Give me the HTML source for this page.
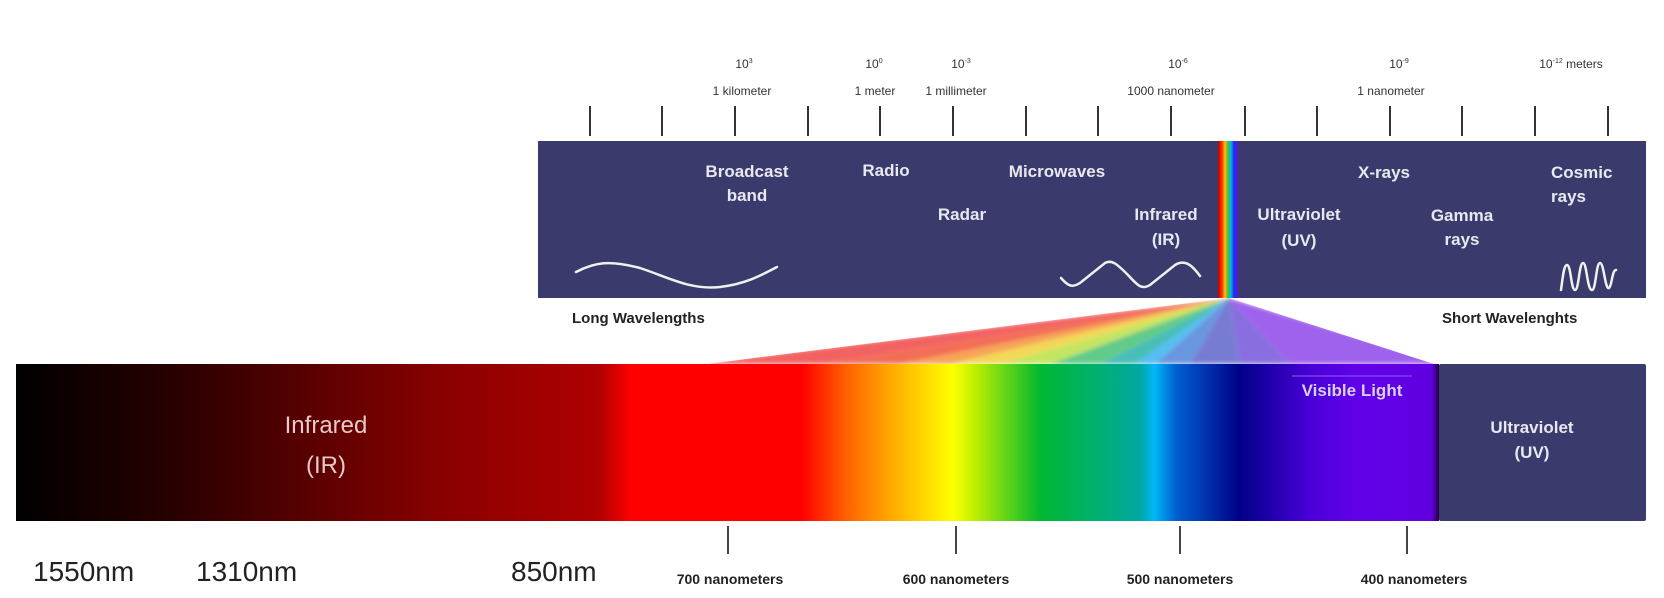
<!DOCTYPE html>
<html><head><meta charset="utf-8"><style>
html,body{margin:0;padding:0;background:#fff;}
svg{display:block;}
text{font-family:"Liberation Sans",sans-serif;}
</style></head><body>
<svg width="1664" height="598" viewBox="0 0 1664 598" xmlns="http://www.w3.org/2000/svg">
<defs>
<linearGradient id="vis" x1="16" y1="0" x2="1439" y2="0" gradientUnits="userSpaceOnUse">
<stop offset="0" stop-color="#000"/>
<stop offset="0.115" stop-color="#2a0000"/>
<stop offset="0.208" stop-color="#5a0000"/>
<stop offset="0.302" stop-color="#8a0000"/>
<stop offset="0.41" stop-color="#b00000"/>
<stop offset="0.432" stop-color="#ff0000"/>
<stop offset="0.552" stop-color="#ff0000"/>
<stop offset="0.583" stop-color="#ff6000"/>
<stop offset="0.614" stop-color="#ffa800"/>
<stop offset="0.658" stop-color="#ffff00"/>
<stop offset="0.673" stop-color="#c0f000"/>
<stop offset="0.72" stop-color="#00b830"/>
<stop offset="0.76" stop-color="#00b070"/>
<stop offset="0.79" stop-color="#00a8a0"/>
<stop offset="0.8" stop-color="#00b8f8"/>
<stop offset="0.815" stop-color="#0060d0"/>
<stop offset="0.86" stop-color="#000088"/>
<stop offset="0.91" stop-color="#4a00d8"/>
<stop offset="0.94" stop-color="#6000e8"/>
<stop offset="0.995" stop-color="#6000e0"/>
<stop offset="1" stop-color="#200040"/>
</linearGradient>
<linearGradient id="rb" x1="1218" y1="0" x2="1238" y2="0" gradientUnits="userSpaceOnUse">
<stop offset="0" stop-color="#c00000"/>
<stop offset="0.2" stop-color="#ff3000"/>
<stop offset="0.35" stop-color="#ffc000"/>
<stop offset="0.5" stop-color="#40c040"/>
<stop offset="0.65" stop-color="#00b0f0"/>
<stop offset="0.8" stop-color="#2030e0"/>
<stop offset="1" stop-color="#6010e0"/>
</linearGradient>
<filter id="bl"><feGaussianBlur stdDeviation="2"/></filter>
<clipPath id="fc"><polygon points="1229,298 707,364 1434,364"/></clipPath>
</defs>

<rect x="538" y="141" width="1108" height="157" fill="#3a3a6c"/>
<rect x="1218" y="141" width="20" height="157" fill="url(#rb)"/>

<g stroke="#333" stroke-width="2">
<line x1="590" y1="106" x2="590" y2="136"/><line x1="662" y1="106" x2="662" y2="136"/>
<line x1="735" y1="106" x2="735" y2="136"/><line x1="808" y1="106" x2="808" y2="136"/>
<line x1="880" y1="106" x2="880" y2="136"/><line x1="953" y1="106" x2="953" y2="136"/>
<line x1="1026" y1="106" x2="1026" y2="136"/><line x1="1098" y1="106" x2="1098" y2="136"/>
<line x1="1171" y1="106" x2="1171" y2="136"/><line x1="1245" y1="106" x2="1245" y2="136"/>
<line x1="1317" y1="106" x2="1317" y2="136"/><line x1="1390" y1="106" x2="1390" y2="136"/>
<line x1="1462" y1="106" x2="1462" y2="136"/><line x1="1535" y1="106" x2="1535" y2="136"/>
<line x1="1608" y1="106" x2="1608" y2="136"/>
</g>
<g font-size="12" fill="#333" text-anchor="middle">
<text x="744" y="68">10<tspan font-size="7" dy="-5">3</tspan></text>
<text x="874" y="68">10<tspan font-size="7" dy="-5">0</tspan></text>
<text x="961" y="68">10<tspan font-size="7" dy="-5">-3</tspan></text>
<text x="1178" y="68">10<tspan font-size="7" dy="-5">-6</tspan></text>
<text x="1399" y="68">10<tspan font-size="7" dy="-5">-9</tspan></text>
<text x="1571" y="68">10<tspan font-size="7" dy="-5">-12</tspan><tspan dy="5"> meters</tspan></text>
<text x="742" y="95">1 kilometer</text>
<text x="875" y="95">1 meter</text>
<text x="956" y="95">1 millimeter</text>
<text x="1171" y="95">1000 nanometer</text>
<text x="1391" y="95">1 nanometer</text>
</g>

<g font-size="17" font-weight="bold" fill="#e8e8f0" text-anchor="middle">
<text x="747" y="177">Broadcast</text><text x="747" y="201">band</text>
<text x="886" y="176">Radio</text>
<text x="1057" y="177">Microwaves</text>
<text x="962" y="220">Radar</text>
<text x="1166" y="220">Infrared</text><text x="1166" y="245">(IR)</text>
<text x="1299" y="220">Ultraviolet</text><text x="1299" y="246">(UV)</text>
<text x="1384" y="178">X-rays</text>
<text x="1462" y="221">Gamma</text><text x="1462" y="245">rays</text>
<text x="1551" y="178" text-anchor="start">Cosmic</text><text x="1551" y="202" text-anchor="start">rays</text>
</g>
<g fill="none" stroke="#f0f0f0" stroke-width="2.5" stroke-linecap="round">
<path d="M576,272 C595,262 610,260 640,268 C670,278 690,290 720,287 C745,284 760,276 777,267"/>
<path d="M1061,278 C1068,286 1072,288 1080,283 L1105,263 C1112,259 1118,265 1128,275 C1138,286 1142,290 1150,285 L1175,265 C1185,259 1192,265 1200,276"/>
<path d="M1561,290 C1563,275 1564,265 1567,265 C1571,265 1571,290 1575,290 C1579,290 1579,263 1583,263 C1587,263 1587,290 1592,290 C1596,290 1596,263 1600,263 C1604,263 1605,290 1609,288 C1612,286 1612,270 1616,270"/>
</g>

<g font-size="15" font-weight="bold" fill="#222">
<text x="572" y="323">Long Wavelengths</text>
<text x="1442" y="323">Short Wavelenghts</text>
</g>

<g clip-path="url(#fc)">
<g opacity="0.82" filter="url(#bl)">
<polygon points="1229,298 690,364 820,364" fill="#f04040"/>
<polygon points="1229,298 820,364 900,364" fill="#f05030"/>
<polygon points="1229,298 900,364 950,364" fill="#f59030"/>
<polygon points="1229,298 950,364 1000,364" fill="#f0d030"/>
<polygon points="1229,298 1000,364 1050,364" fill="#b8e040"/>
<polygon points="1229,298 1050,364 1100,364" fill="#40c070"/>
<polygon points="1229,298 1100,364 1135,364" fill="#20b0a8"/>
<polygon points="1229,298 1135,364 1155,364" fill="#30b0f0"/>
<polygon points="1229,298 1155,364 1190,364" fill="#4a80d8"/>
<polygon points="1229,298 1190,364 1240,364" fill="#5a60c8"/>
<polygon points="1229,298 1240,364 1290,364" fill="#7050d8"/>
<polygon points="1229,298 1290,364 1450,364" fill="#8a40e8"/>
</g>
</g>

<rect x="16" y="364" width="1423" height="157" fill="url(#vis)"/>
<rect x="1439" y="364" width="207" height="157" fill="#3a3a6c" rx="2"/>
<line x1="1292" y1="376" x2="1412" y2="376" stroke="#8a60f0" stroke-width="1"/>
<text x="1352" y="396" font-size="17" font-weight="bold" fill="#d8d0f0" text-anchor="middle">Visible Light</text>
<g font-size="17" font-weight="bold" fill="#e8e8f0" text-anchor="middle">
<text x="1532" y="433">Ultraviolet</text><text x="1532" y="458">(UV)</text>
</g>
<g font-size="24" fill="#e8c8c8" text-anchor="middle">
<text x="326" y="433">Infrared</text><text x="326" y="473">(IR)</text>
</g>

<g stroke="#444" stroke-width="2">
<line x1="728" y1="526" x2="728" y2="554"/>
<line x1="956" y1="526" x2="956" y2="554"/>
<line x1="1180" y1="526" x2="1180" y2="554"/>
<line x1="1407" y1="526" x2="1407" y2="554"/>
</g>
<g font-size="14" font-weight="bold" fill="#222" text-anchor="middle">
<text x="730" y="584">700 nanometers</text>
<text x="956" y="584">600 nanometers</text>
<text x="1180" y="584">500 nanometers</text>
<text x="1414" y="584">400 nanometers</text>
</g>
<g font-size="28" fill="#222">
<text x="33" y="581">1550nm</text>
<text x="196" y="581">1310nm</text>
<text x="511" y="581">850nm</text>
</g>
</svg>
</body></html>
